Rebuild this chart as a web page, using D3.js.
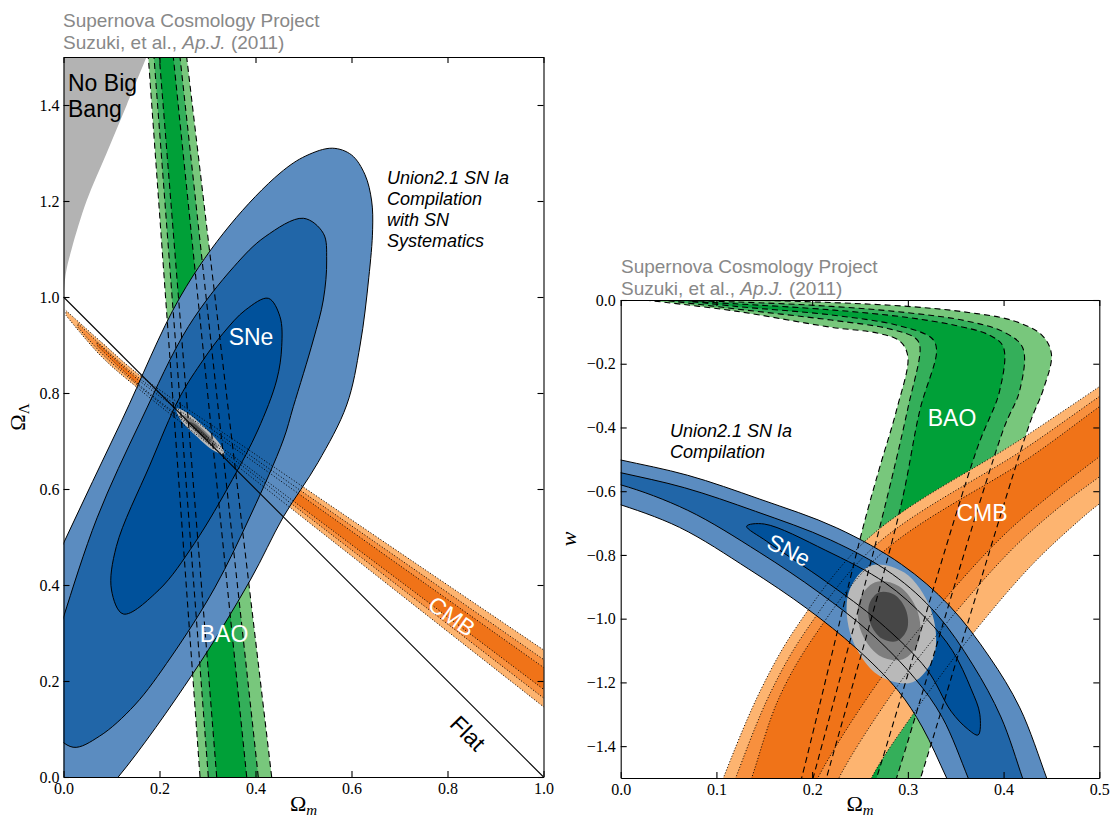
<!DOCTYPE html>
<html>
<head>
<meta charset="utf-8">
<script src="https://cdn.jsdelivr.net/npm/d3@7"></script>
<style>
  html, body { margin: 0; padding: 0; background: #fff; }
  svg { display: block; }
</style>
</head>
<body>
<svg id="chart" width="1110" height="821"></svg>
<script>
// ================= Ωm – ΩΛ plane =================
const lamXTicks = [0, 0.2, 0.4, 0.6, 0.8, 1.0];
const lamYTicks = [0, 0.2, 0.4, 0.6, 0.8, 1.0, 1.2, 1.4];

const noBigBangEdge = [[0, 1.0], [0.005, 1.05], [0.017, 1.1], [0.048, 1.2], [0.09, 1.3], [0.1317, 1.4], [0.173, 1.5]];
const flatLine = [[0, 1], [1, 0]];

// BAO band edges (ΩΛ = 0 and ΩΛ = 1.5)
const baoLamOuterA = [[0.2844, 0], [0.1767, 1.5]];
const baoLamOuterB = [[0.4337, 0], [0.2566, 1.5]];
const baoLamMidA   = [[0.3017, 0], [0.1885, 1.5]];
const baoLamMidB   = [[0.4058, 0], [0.2427, 1.5]];
const baoLamInnerA = [[0.3192, 0], [0.1996, 1.5]];
const baoLamInnerB = [[0.3817, 0], [0.2288, 1.5]];

// CMB band edges
const cmbLamOuterA = [[0.005, 0.972], [0.08, 0.905], [0.16, 0.836], [0.4, 0.672], [0.7, 0.468], [1.05, 0.231]];
const cmbLamOuterB = [[0.005, 0.962], [0.08, 0.875], [0.16, 0.806], [0.4, 0.618], [0.7, 0.382], [1.05, 0.107]];
const cmbLamMidA   = [[0.03, 0.945], [0.08, 0.898], [0.16, 0.829], [0.4, 0.662], [0.7, 0.454], [1.05, 0.21]];
const cmbLamMidB   = [[0.03, 0.937], [0.08, 0.882], [0.16, 0.812], [0.4, 0.627], [0.7, 0.396], [1.05, 0.126]];
const cmbLamInnerA = [[0.07, 0.905], [0.16, 0.824], [0.4, 0.654], [0.7, 0.441], [1.05, 0.193]];
const cmbLamInnerB = [[0.07, 0.899], [0.16, 0.815], [0.4, 0.634], [0.7, 0.409], [1.05, 0.145]];

// SN Ia contours (99.7%, 95%, 68%)
const sneLamOuter = [[0.505, 1.294], [0.56, 1.31], [0.60, 1.296], [0.628, 1.255], [0.642, 1.2], [0.644, 1.14],
  [0.636, 1.04], [0.618, 0.90], [0.59, 0.775], [0.53, 0.655], [0.458, 0.542], [0.389, 0.41], [0.27, 0.216],
  [0.114, 0.0], [0.02, -0.10], [-0.08, -0.16], [-0.16, -0.12], [-0.18, 0.0], [-0.12, 0.22], [0.0, 0.487],
  [0.122, 0.744], [0.243, 1.0], [0.347, 1.15], [0.451, 1.258]];
const sneLamMid = [[0.4996, 1.164], [0.5413, 1.1327], [0.5483, 1.077], [0.5413, 0.9938], [0.5204, 0.9104],
  [0.4788, 0.7715], [0.4579, 0.7021], [0.392, 0.55], [0.315, 0.394], [0.224, 0.25], [0.1485, 0.15],
  [0.075, 0.085], [0.02, 0.062], [-0.025, 0.1], [-0.04, 0.17], [-0.025, 0.25], [0.0, 0.333], [0.07, 0.54],
  [0.162, 0.744], [0.26, 0.9381], [0.355, 1.0631], [0.42, 1.1256]];
const sneLamInner = [[0.4267, 0.9973], [0.451, 0.959], [0.4546, 0.8965], [0.4442, 0.8271], [0.405, 0.7229],
  [0.352, 0.62], [0.2729, 0.4869], [0.199, 0.39], [0.1246, 0.3396], [0.10, 0.3896], [0.11, 0.48],
  [0.18, 0.65], [0.2427, 0.7923], [0.291, 0.8688], [0.3325, 0.9244], [0.379, 0.9729]];

// combined constraint
const combLamOuter = [[0.335, 0.672], [0.3265, 0.6925], [0.2935, 0.7285], [0.2565, 0.7595], [0.235, 0.767], [0.2435, 0.7455], [0.2765, 0.7105], [0.3135, 0.6795]];
const combLamMid   = [[0.3213, 0.6851], [0.3145, 0.6993], [0.2901, 0.7249], [0.2633, 0.7479], [0.2487, 0.7539], [0.2555, 0.7397], [0.2799, 0.7141], [0.3067, 0.6911]];
const combLamInner = [[0.3068, 0.6988], [0.3025, 0.7071], [0.2878, 0.7224], [0.2717, 0.7363], [0.2632, 0.7402], [0.2675, 0.7319], [0.2822, 0.7166], [0.2983, 0.7027]];

// ================= Ωm – w plane =================
const wXTicks = [0, 0.1, 0.2, 0.3, 0.4, 0.5];
const wYTicks = [0, -0.2, -0.4, -0.6, -0.8, -1.0, -1.2, -1.4];

// BAO: each level bounded by a lower/left edge (A) and an upper/right edge (B), both from the tip
const baoWOuterB = [[0.025, 0.0], [0.12, 0.0], [0.22, -0.008], [0.30, -0.02], [0.358, -0.037], [0.41, -0.065], [0.44, -0.11], [0.45, -0.17], [0.4413, -0.2824], [0.4274, -0.387], [0.3133, -1.5], [0.3, -1.62]];
const baoWMidB   = [[0.05, -0.002], [0.12, -0.006], [0.22, -0.02], [0.30, -0.04], [0.36, -0.065], [0.40, -0.1], [0.42, -0.15], [0.417, -0.2824], [0.3996, -0.408], [0.2882, -1.5], [0.275, -1.62]];
const baoWInnerB = [[0.075, -0.005], [0.12, -0.012], [0.22, -0.031], [0.30, -0.055], [0.35, -0.08], [0.385, -0.11], [0.3996, -0.1465], [0.3961, -0.2824], [0.3718, -0.4707], [0.2673, -1.5], [0.254, -1.62]];
const baoWInnerA = [[0.075, -0.005], [0.12, -0.02], [0.22, -0.047], [0.29, -0.08], [0.325, -0.12], [0.33, -0.157], [0.3126, -0.345], [0.2917, -0.659], [0.215, -1.5], [0.204, -1.62]];
const baoWMidA   = [[0.05, -0.002], [0.12, -0.028], [0.22, -0.063], [0.28, -0.09], [0.308, -0.12], [0.3126, -0.1465], [0.30, -0.34], [0.2708, -0.711], [0.201, -1.5], [0.19, -1.62]];
const baoWOuterA = [[0.025, 0.0], [0.12, -0.035], [0.2186, -0.085], [0.27, -0.105], [0.292, -0.13], [0.300, -0.178], [0.2882, -0.345], [0.2708, -0.523], [0.2534, -0.711], [0.189, -1.5], [0.178, -1.62]];

// CMB: upper-left edges (A) and lower-right edges (B), bottom to right
const cmbWOuterA = [[0.095, -1.6], [0.1072, -1.5], [0.1462, -1.224], [0.185, -1.02], [0.2604, -0.743], [0.417, -0.439], [0.5, -0.272], [0.54, -0.19]];
const cmbWMidA   = [[0.108, -1.6], [0.1201, -1.5], [0.1556, -1.2375], [0.1937, -1.037], [0.2673, -0.767], [0.4227, -0.4656], [0.5, -0.303], [0.54, -0.22]];
const cmbWInnerA = [[0.125, -1.6], [0.1368, -1.5], [0.165, -1.2513], [0.2024, -1.0543], [0.2742, -0.7904], [0.4285, -0.4917], [0.5, -0.335], [0.54, -0.25]];
const cmbWInnerB = [[0.193, -1.6], [0.206, -1.5], [0.2698, -1.1955], [0.3324, -0.96], [0.3991, -0.7411], [0.4534, -0.6009], [0.5, -0.492], [0.54, -0.405]];
const cmbWMidB   = [[0.215, -1.6], [0.228, -1.5], [0.2852, -1.228], [0.3462, -0.993], [0.4111, -0.7757], [0.4638, -0.6363], [0.5, -0.555], [0.54, -0.465]];
const cmbWOuterB = [[0.25, -1.6], [0.262, -1.5], [0.31, -1.28], [0.3682, -1.046], [0.43, -0.83], [0.4797, -0.69], [0.5, -0.64], [0.54, -0.56]];

// SN Ia: upper (U) and lower (L) edges of the 99.7% and 95% bands, plus the closed 68% contour
const sneWOuterU = [[-0.05, -0.47], [0, -0.502], [0.07, -0.55], [0.1454, -0.625], [0.2256, -0.715], [0.2935, -0.83], [0.3436, -0.96], [0.3852, -1.12], [0.417, -1.28], [0.445, -1.5], [0.457, -1.6]];
const sneWOuterL = [[-0.05, -0.6], [-0.0071, -0.6357], [0.0614, -0.7135], [0.1336, -0.844], [0.1949, -0.969], [0.2457, -1.092], [0.2902, -1.2275], [0.315, -1.34], [0.3405, -1.5], [0.356, -1.6]];
const sneWMidU   = [[-0.05, -0.51], [0, -0.542], [0.0665, -0.589], [0.1407, -0.663], [0.2192, -0.753], [0.2841, -0.861], [0.3299, -0.985], [0.3679, -1.145], [0.3972, -1.3085], [0.4198, -1.5], [0.431, -1.6]];
const sneWMidL   = [[-0.05, -0.55], [0, -0.58], [0.07, -0.66], [0.1447, -0.7914], [0.2072, -0.918], [0.2603, -1.043], [0.3076, -1.1886], [0.336, -1.31], [0.363, -1.5], [0.376, -1.6]];
const sneWInner  = [[0.1316, -0.71], [0.15, -0.703], [0.2137, -0.785], [0.2765, -0.888], [0.3192, -1.0], [0.3465, -1.1], [0.366, -1.22], [0.3752, -1.3], [0.3734, -1.365], [0.362, -1.345], [0.345, -1.29], [0.32, -1.16], [0.27, -1.01], [0.2151, -0.885], [0.1524, -0.757]];

// combined constraint
const combWOuter = [[0.3049, -1.1996], [0.3276, -1.1139], [0.3240, -0.9715], [0.2963, -0.8554], [0.2607, -0.8337], [0.2380, -0.9194], [0.2415, -1.0618], [0.2693, -1.1779]];
const combWMid   = [[0.2950, -1.1274], [0.3115, -1.0693], [0.3098, -0.9743], [0.2908, -0.898], [0.2658, -0.8858], [0.2493, -0.9438], [0.2509, -1.0389], [0.2699, -1.1152]];
const combWInner = [[0.2887, -1.0703], [0.2992, -1.0336], [0.2981, -0.9733], [0.2860, -0.925], [0.2702, -0.9172], [0.2597, -0.9539], [0.2608, -1.0141], [0.2729, -1.0624]];

// ================= styles =================
const sneFill  = ["#5b8cc0", "#2166a8", "#00519b"];
const baoFill  = ["#78c77c", "#34af5a", "#00a038"];
const cmbFill  = ["#fdb470", "#f8903e", "#f07318"];
const combFill = ["#b9b9b9", "#7e7e7e", "#474747"];
const sansFont  = "'Liberation Sans', Arial, Helvetica, sans-serif";
const serifFont = "'Liberation Serif', 'Times New Roman', serif";
const headGray = "#888888";

// ================= drawing =================
const svg = d3.select("#chart");
const defs = svg.append("defs");

const xLam = d3.scaleLinear().domain([0, 1]).range([63.5, 543.5]);
const yLam = d3.scaleLinear().domain([0, 1.5]).range([777, 57]);
const xW = d3.scaleLinear().domain([0, 0.5]).range([620.7, 1099.3]);
const yW = d3.scaleLinear().domain([-1.5, 0]).range([778, 300]);

function makeLine(x, y, curve) {
  return d3.line().x(d => x(d[0])).y(d => y(d[1])).curve(curve);
}
function openPath(pts, x, y) { return makeLine(x, y, d3.curveCatmullRom.alpha(0.5))(pts); }
function closedPath(pts, x, y) { return makeLine(x, y, d3.curveCatmullRomClosed.alpha(0.5))(pts); }
function bandPath(a, b, x, y) {
  const l = makeLine(x, y, d3.curveCatmullRom.alpha(0.5));
  return l(a) + "L" + l(b.slice().reverse()).slice(1) + "Z";
}

function addClip(id, x, y) {
  const [x0, x1] = x.range();
  const [yb, yt] = y.range();
  defs.append("clipPath").attr("id", id).append("rect")
    .attr("x", x0).attr("y", yt).attr("width", x1 - x0).attr("height", yb - yt);
}
addClip("clipLam", xLam, yLam);
addClip("clipW", xW, yW);

// ---------- left panel ----------
const gL = svg.append("g").attr("clip-path", "url(#clipLam)");

gL.append("path")
  .attr("d", openPath(noBigBangEdge, xLam, yLam) + "L" + xLam(0) + "," + yLam(1.5) + "Z")
  .attr("fill", "#b3b3b3");

const baoLamLevels = [[baoLamOuterA, baoLamOuterB], [baoLamMidA, baoLamMidB], [baoLamInnerA, baoLamInnerB]];
baoLamLevels.forEach((lv, i) => {
  gL.append("path").attr("d", bandPath(lv[0], lv[1], xLam, yLam)).attr("fill", baoFill[i]);
});
const cmbLamLevels = [[cmbLamOuterA, cmbLamOuterB], [cmbLamMidA, cmbLamMidB], [cmbLamInnerA, cmbLamInnerB]];
cmbLamLevels.forEach((lv, i) => {
  gL.append("path").attr("d", bandPath(lv[0], lv[1], xLam, yLam)).attr("fill", cmbFill[i]);
});
const sneLamLevels = [sneLamOuter, sneLamMid, sneLamInner];
sneLamLevels.forEach((c, i) => {
  gL.append("path").attr("d", closedPath(c, xLam, yLam)).attr("fill", sneFill[i]);
});
[combLamOuter, combLamMid, combLamInner].forEach((c, i) => {
  gL.append("path").attr("d", closedPath(c, xLam, yLam)).attr("fill", combFill[i]);
});
sneLamLevels.forEach(c => {
  gL.append("path").attr("d", closedPath(c, xLam, yLam))
    .attr("fill", "none").attr("stroke", "#000").attr("stroke-width", 1);
});
baoLamLevels.forEach(lv => {
  lv.forEach(edge => {
    gL.append("path").attr("d", openPath(edge, xLam, yLam))
      .attr("fill", "none").attr("stroke", "#000").attr("stroke-width", 1.1)
      .attr("stroke-dasharray", "6,4");
  });
});
cmbLamLevels.forEach(lv => {
  gL.append("path").attr("d", bandPath(lv[0], lv[1], xLam, yLam))
    .attr("fill", "none").attr("stroke", "#000").attr("stroke-width", 1)
    .attr("stroke-dasharray", "1,2");
});
gL.append("path").attr("d", makeLine(xLam, yLam, d3.curveLinear)(flatLine))
  .attr("fill", "none").attr("stroke", "#000").attr("stroke-width", 1.1);

// ---------- right panel ----------
const gR = svg.append("g").attr("clip-path", "url(#clipW)");
const baoWLevels = [[baoWOuterB, baoWOuterA], [baoWMidB, baoWMidA], [baoWInnerB, baoWInnerA]];
baoWLevels.forEach((lv, i) => {
  gR.append("path").attr("d", bandPath(lv[0], lv[1], xW, yW)).attr("fill", baoFill[i]);
});
const cmbWLevels = [[cmbWOuterA, cmbWOuterB], [cmbWMidA, cmbWMidB], [cmbWInnerA, cmbWInnerB]];
cmbWLevels.forEach((lv, i) => {
  gR.append("path").attr("d", bandPath(lv[0], lv[1], xW, yW)).attr("fill", cmbFill[i]);
});
const sneWBands = [[sneWOuterU, sneWOuterL], [sneWMidU, sneWMidL]];
sneWBands.forEach((lv, i) => {
  gR.append("path").attr("d", bandPath(lv[0], lv[1], xW, yW)).attr("fill", sneFill[i]);
});
gR.append("path").attr("d", closedPath(sneWInner, xW, yW)).attr("fill", sneFill[2]);
[combWOuter, combWMid, combWInner].forEach((c, i) => {
  gR.append("path").attr("d", closedPath(c, xW, yW)).attr("fill", combFill[i]);
});
sneWBands.forEach(lv => {
  gR.append("path").attr("d", bandPath(lv[0], lv[1], xW, yW))
    .attr("fill", "none").attr("stroke", "#000").attr("stroke-width", 1);
});
gR.append("path").attr("d", closedPath(sneWInner, xW, yW))
  .attr("fill", "none").attr("stroke", "#000").attr("stroke-width", 1);
baoWLevels.forEach(lv => {
  lv.forEach(edge => {
    gR.append("path").attr("d", openPath(edge, xW, yW))
      .attr("fill", "none").attr("stroke", "#000").attr("stroke-width", 1.1)
      .attr("stroke-dasharray", "6,4");
  });
});
cmbWLevels.forEach(lv => {
  gR.append("path").attr("d", bandPath(lv[0], lv[1], xW, yW))
    .attr("fill", "none").attr("stroke", "#000").attr("stroke-width", 1)
    .attr("stroke-dasharray", "1,2");
});

// ---------- axes ----------
function drawAxes(x, y, xTicks, yTicks, yPad) {
  const [x0, x1] = x.range();
  const [yb, yt] = y.range();
  const fmt = d3.format(".1f");
  const style = g => {
    g.attr("font-family", serifFont).attr("font-size", 16);
    g.selectAll("path,line").attr("stroke", "#000").attr("stroke-width", 1.1);
    g.selectAll("text").attr("fill", "#000");
  };
  svg.append("g").attr("transform", `translate(0,${yb})`)
    .call(d3.axisBottom(x).tickValues(xTicks).tickFormat(fmt).tickSizeInner(-6).tickSizeOuter(0).tickPadding(6))
    .call(style);
  svg.append("g").attr("transform", `translate(0,${yt})`)
    .call(d3.axisTop(x).tickValues(xTicks).tickFormat("").tickSizeInner(-6).tickSizeOuter(0))
    .call(style);
  svg.append("g").attr("transform", `translate(${x0},0)`)
    .call(d3.axisLeft(y).tickValues(yTicks).tickFormat(fmt).tickSizeInner(-6).tickSizeOuter(0).tickPadding(yPad))
    .call(style);
  svg.append("g").attr("transform", `translate(${x1},0)`)
    .call(d3.axisRight(y).tickValues(yTicks).tickFormat("").tickSizeInner(-6).tickSizeOuter(0))
    .call(style);
}
drawAxes(xLam, yLam, lamXTicks, lamYTicks, 4);
drawAxes(xW, yW, wXTicks, wYTicks, 5);

// ---------- text ----------
function header(x, y) {
  svg.append("text").attr("x", x).attr("y", y).attr("font-family", sansFont).attr("font-size", 19)
    .attr("fill", headGray).text("Supernova Cosmology Project");
  const t = svg.append("text").attr("x", x).attr("y", y + 21.5).attr("font-family", sansFont)
    .attr("font-size", 19).attr("fill", headGray);
  t.append("tspan").text("Suzuki, et al., ");
  t.append("tspan").attr("font-style", "italic").text("Ap.J.");
  t.append("tspan").text(" (2011)");
}
header(63, 27);
header(621, 273);

function label(txt, cx, cy, opts) {
  const o = Object.assign({ size: 23, fill: "#fff", rot: 0 }, opts || {});
  svg.append("text")
    .attr("transform", `translate(${cx},${cy}) rotate(${o.rot})`)
    .attr("text-anchor", "middle").attr("dy", "0.36em")
    .attr("font-family", sansFont).attr("font-size", o.size)
    .attr("fill", o.fill).text(txt);
}
// left panel
svg.append("text").attr("x", 68).attr("y", 91).attr("font-family", sansFont).attr("font-size", 23).attr("fill", "#000").text("No Big");
svg.append("text").attr("x", 68).attr("y", 117).attr("font-family", sansFont).attr("font-size", 23).attr("fill", "#000").text("Bang");
["Union2.1 SN Ia", "Compilation", "with SN", "Systematics"].forEach((s, i) => {
  svg.append("text").attr("x", 387).attr("y", 184 + i * 21).attr("font-family", sansFont)
    .attr("font-size", 18).attr("font-style", "italic").attr("fill", "#000").text(s);
});
label("SNe", 251, 337);
label("BAO", 224, 634);
label("CMB", 452, 616, { rot: 35 });
label("Flat", 468, 733, { rot: 45, fill: "#000" });

// right panel
["Union2.1 SN Ia", "Compilation"].forEach((s, i) => {
  svg.append("text").attr("x", 670).attr("y", 437 + i * 21).attr("font-family", sansFont)
    .attr("font-size", 18).attr("font-style", "italic").attr("fill", "#000").text(s);
});
label("SNe", 789, 550, { rot: 27 });
label("BAO", 952, 418);
label("CMB", 982, 513);

// axis titles
function omegaTitle(cx, cy, sub, rot, subItalic) {
  const t = svg.append("text").attr("transform", `translate(${cx},${cy}) rotate(${rot})`)
    .attr("text-anchor", "middle").attr("font-family", serifFont).attr("font-size", 22).attr("fill", "#000");
  t.append("tspan").text("Ω");
  t.append("tspan").attr("dy", 4).attr("font-size", 15).attr("font-style", subItalic ? "italic" : "normal").text(sub);
}
omegaTitle(303.5, 811, "m", 0, true);
omegaTitle(860, 811, "m", 0, true);
omegaTitle(25, 417, "Λ", -90, false);
svg.append("text").attr("transform", "translate(576,539) rotate(-90)").attr("text-anchor", "middle")
  .attr("font-family", serifFont).attr("font-size", 22).attr("font-style", "italic").attr("fill", "#000").text("w");
</script>
</body>
</html>
